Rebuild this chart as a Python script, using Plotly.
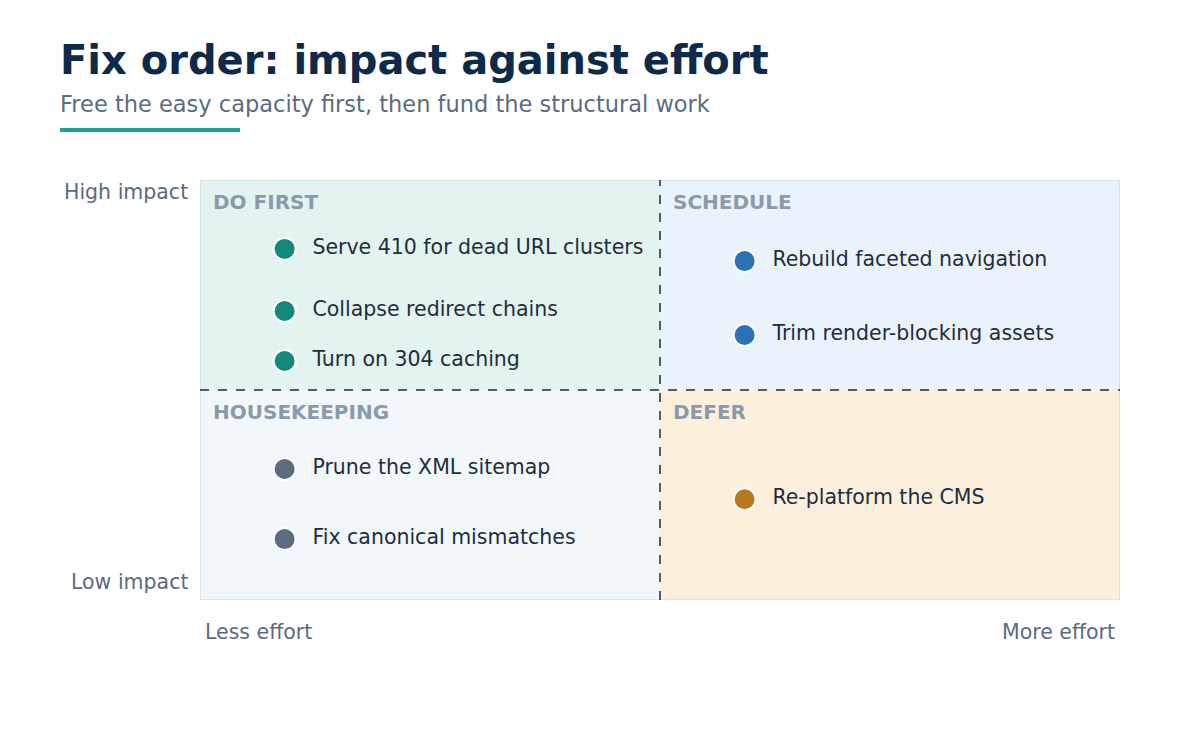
import plotly.graph_objects as go

# effort (0-10) vs impact (0-10)
labels = ["Serve 410 for dead URL clusters", "Collapse redirect chains", "Turn on 304 caching",
          "Rebuild faceted navigation", "Trim render-blocking assets",
          "Prune the XML sitemap", "Fix canonical mismatches", "Re-platform the CMS"]
effort = [0.92, 0.92, 0.92, 5.92, 5.92, 0.92, 0.92, 5.92]
impact = [8.36, 6.88, 5.69, 8.07, 6.31, 3.12, 1.45, 2.40]
colors = ["#12897a", "#12897a", "#12897a", "#2a72b5", "#2a72b5", "#5c6b80", "#5c6b80", "#b8791f"]

quadrants = [("DO FIRST", 0, 5, 5, 10, "#e3f4f0"), ("SCHEDULE", 5, 10, 5, 10, "#eaf2fb"),
             ("HOUSEKEEPING", 0, 5, 0, 5, "#f2f7fb"), ("DEFER", 5, 10, 0, 5, "#fcf0dd")]

FONT = "DejaVu Sans"
fig = go.Figure()
fig.add_trace(go.Scatter(
    x=effort, y=impact, mode="markers+text", text=["  " + t for t in labels],
    textposition="middle right",
    textfont=dict(size=20.5, color="#1f2d3d", family=FONT),
    marker=dict(size=22, color=colors, line=dict(color="white", width=2)),
    hoverinfo="text", showlegend=False, cliponaxis=False))

shapes = []
annotations = []
for name, x0, x1, y0, y1, fill in quadrants:
    shapes.append(dict(type="rect", x0=x0, x1=x1, y0=y0, y1=y1, fillcolor=fill,
                       line=dict(width=0), layer="below"))
    annotations.append(dict(x=x0 + 0.12, y=y1 - 0.2, text=f"<b>{name}</b>", showarrow=False,
                            xanchor="left", yanchor="top",
                            font=dict(size=20, color="#8a9aab", family=FONT)))
shapes += [
    dict(type="rect", x0=0, x1=10, y0=0, y1=10, line=dict(color="#d3dde6", width=1.5), layer="below"),
    dict(type="line", x0=5, x1=5, y0=0, y1=10, line=dict(color="#1a2a40", width=1.5, dash="dash")),
    dict(type="line", x0=0, x1=10, y0=5, y1=5, line=dict(color="#1a2a40", width=1.5, dash="dash")),
    dict(type="line", xref="paper", yref="paper", x0=-140 / 920, x1=40 / 920,
         y0=470 / 420, y1=470 / 420, line=dict(color="#17a398", width=4)),
]

def px_note(text, px, py, anchor, size=15, color="#5a6b80"):
    annotations.append(dict(xref="paper", yref="paper", x=(px - 200) / 920, y=(600 - py) / 420,
                            text=text, showarrow=False, xanchor=anchor, yanchor="middle",
                            font=dict(size=size, color=color, family=FONT)))

px_note("<b>Fix order: impact against effort</b>", 58, 60, "left", 40, "#0d2a4a")
px_note("Free the easy capacity first, then fund the structural work", 58, 104, "left", 22.5)
px_note("High impact", 190, 192, "right", 20.5)
px_note("Low impact", 190, 582, "right", 20.5)
px_note("Less effort", 203, 632, "left", 20.5)
px_note("More effort", 1117, 632, "right", 20.5)

fig.update_layout(
    width=1200, height=750, margin=dict(l=192, r=88, t=172, b=158),
    paper_bgcolor="white", plot_bgcolor="white",
    xaxis=dict(range=[0, 10], visible=False, fixedrange=True),
    yaxis=dict(range=[0, 10], visible=False, fixedrange=True),
    shapes=shapes, annotations=annotations,
)
fig.write_html("out.html")
